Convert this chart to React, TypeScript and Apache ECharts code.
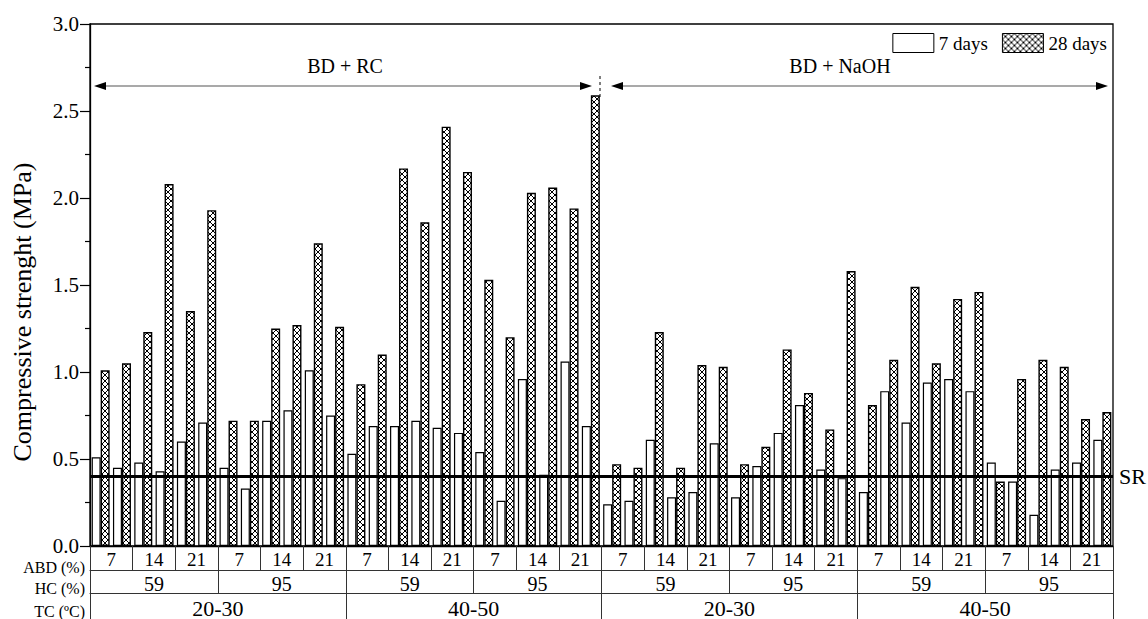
import React, { useEffect, useRef } from 'react';
import * as echarts from 'echarts';

// Treatment families shown above the bars
const MIX_LABELS = ['BD + RC', 'BD + NaOH'];
// Temperature (TC), humidity (HC) and binder dosage (ABD) groupings along the x axis
const TC_LABELS = ['20-30', '40-50', '20-30', '40-50'];
const HC_LABELS = ['59', '95', '59', '95', '59', '95', '59', '95'];
const ABD_LABELS = [
  '7', '14', '21', '7', '14', '21', '7', '14', '21', '7', '14', '21',
  '7', '14', '21', '7', '14', '21', '7', '14', '21', '7', '14', '21',
];
const SPECIMENS_PER_ABD = ['a', 'b'];

// One entry per specimen: ABD cell index + replicate letter
const SPECIMENS: string[] = ABD_LABELS.flatMap((abd, i) =>
  SPECIMENS_PER_ABD.map((s) => `${MIX_LABELS[Math.floor(i / 12)]} ${abd}% ${i}${s}`)
);

// Compressive strength (MPa)
const STRENGTH_7D = [
  0.51, 0.45, 0.48, 0.43, 0.60, 0.71, 0.45, 0.33, 0.72, 0.78, 1.01, 0.75,
  0.53, 0.69, 0.69, 0.72, 0.68, 0.65, 0.54, 0.26, 0.96, 0.41, 1.06, 0.69,
  0.24, 0.26, 0.61, 0.28, 0.31, 0.59, 0.28, 0.46, 0.65, 0.81, 0.44, 0.39,
  0.31, 0.89, 0.71, 0.94, 0.96, 0.89, 0.48, 0.37, 0.18, 0.44, 0.48, 0.61,
];
const STRENGTH_28D = [
  1.01, 1.05, 1.23, 2.08, 1.35, 1.93, 0.72, 0.72, 1.25, 1.27, 1.74, 1.26,
  0.93, 1.10, 2.17, 1.86, 2.41, 2.15, 1.53, 1.20, 2.03, 2.06, 1.94, 2.59,
  0.47, 0.45, 1.23, 0.45, 1.04, 1.03, 0.47, 0.57, 1.13, 0.88, 0.67, 1.58,
  0.81, 1.07, 1.49, 1.05, 1.42, 1.46, 0.37, 0.96, 1.07, 1.03, 0.73, 0.77,
];
// Strength requirement
const SR_LEVEL = 0.4;

const SERIF = '"Liberation Serif", "Times New Roman", serif';

function makeCrossHatch(size: number): HTMLCanvasElement {
  const c = document.createElement('canvas');
  c.width = size;
  c.height = size;
  const ctx = c.getContext('2d')!;
  ctx.fillStyle = '#ffffff';
  ctx.fillRect(0, 0, size, size);
  ctx.strokeStyle = '#000000';
  ctx.lineWidth = 1;
  ctx.beginPath();
  ctx.moveTo(-1, -1);
  ctx.lineTo(size + 1, size + 1);
  ctx.moveTo(size + 1, -1);
  ctx.lineTo(-1, size + 1);
  ctx.stroke();
  return c;
}

function arrow(x1: number, x2: number, y: number) {
  const head = 12;
  const half = 4;
  return [
    { type: 'line', shape: { x1: x1 + 4, y1: y, x2: x2 - 4, y2: y }, style: { stroke: '#555', lineWidth: 1.2 } },
    { type: 'polygon', shape: { points: [[x1, y], [x1 + head, y - half], [x1 + head, y + half]] }, style: { fill: '#000' } },
    { type: 'polygon', shape: { points: [[x2, y], [x2 - head, y - half], [x2 - head, y + half]] }, style: { fill: '#000' } },
  ];
}

export default function App() {
  const ref = useRef<HTMLDivElement>(null);

  useEffect(() => {
    if (!ref.current) return;
    const chart = echarts.init(ref.current, undefined, { renderer: 'svg' });
    const hatchSize = 6;
    const hatch = {
      image: makeCrossHatch(hatchSize),
      repeat: 'repeat',
      imageWidth: hatchSize,
      imageHeight: hatchSize,
    };
    const tableLine = { color: '#333', width: 1 };

    const option: any = {
      animation: false,
      backgroundColor: '#ffffff',
      textStyle: { fontFamily: SERIF, color: '#000' },
      grid: {
        left: 90, right: 35, top: 24, height: 524,
        show: true, borderColor: '#000', borderWidth: 1.3, backgroundColor: 'transparent',
      },
      legend: {
        right: 41, top: 33, padding: 0,
        itemWidth: 41, itemHeight: 19, itemGap: 14, icon: 'rect',
        data: ['7 days', '28 days'],
        itemStyle: { borderColor: '#000', borderWidth: 1 },
        textStyle: { fontSize: 19, color: '#000', fontFamily: SERIF },
      },
      xAxis: [
        {
          type: 'category', data: SPECIMENS, position: 'bottom',
          axisLine: { show: true, lineStyle: { color: '#000', width: 1.3 } },
          axisTick: { show: false }, axisLabel: { show: false },
        },
        {
          type: 'category', data: ABD_LABELS, position: 'bottom', offset: 0,
          axisLine: { show: false },
          axisTick: { show: true, length: 24, lineStyle: tableLine },
          axisLabel: { interval: 0, fontSize: 19, color: '#000', fontFamily: SERIF, margin: 13, verticalAlign: 'middle' },
        },
        {
          type: 'category', data: HC_LABELS, position: 'bottom', offset: 24,
          axisLine: { show: true, lineStyle: tableLine },
          axisTick: { show: true, length: 23, lineStyle: tableLine },
          axisLabel: { interval: 0, fontSize: 20, color: '#000', fontFamily: SERIF, margin: 14, verticalAlign: 'middle' },
        },
        {
          type: 'category', data: TC_LABELS, position: 'bottom', offset: 47,
          axisLine: { show: true, lineStyle: tableLine },
          axisTick: { show: true, length: 30, lineStyle: tableLine },
          axisLabel: { interval: 0, fontSize: 22, color: '#000', fontFamily: SERIF, margin: 15, verticalAlign: 'middle' },
        },
      ],
      yAxis: {
        type: 'value', min: 0, max: 3, interval: 0.5,
        axisLine: { show: true, lineStyle: { color: '#000', width: 1.3 } },
        axisTick: { show: true, length: 10, lineStyle: { color: '#000', width: 1.2 } },
        minorTick: { show: true, splitNumber: 2, length: 5, lineStyle: { color: '#000', width: 1.2 } },
        splitLine: { show: false },
        axisLabel: {
          formatter: (v: number) => v.toFixed(1),
          fontSize: 21, color: '#000', fontFamily: SERIF, margin: 11, lineHeight: 14,
        },
      },
      series: [
        {
          name: '7 days', type: 'bar', data: STRENGTH_7D,
          barWidth: 9, barGap: '0%',
          itemStyle: { color: '#ffffff', borderColor: '#000', borderWidth: 1.2 },
        },
        {
          name: '28 days', type: 'bar', data: STRENGTH_28D,
          barWidth: 9, barGap: '0%',
          itemStyle: { color: hatch, borderColor: '#000', borderWidth: 1.4 },
          markLine: {
            silent: true, symbol: 'none',
            data: [{ yAxis: SR_LEVEL }],
            lineStyle: { color: '#000', width: 3, type: 'solid' },
            label: { show: true, position: 'end', formatter: 'SR', fontSize: 22, color: '#000', fontFamily: SERIF, distance: 6 },
          },
        },
      ],
      graphic: [
        {
          type: 'text', x: 22, y: 312, rotation: Math.PI / 2,
          style: { text: 'Compressive strenght (MPa)', font: `26px ${SERIF}`, fill: '#000', align: 'center', verticalAlign: 'middle' },
        },
        { type: 'text', x: 85, y: 567, style: { text: 'ABD (%)', font: `16px ${SERIF}`, fill: '#000', align: 'right', verticalAlign: 'middle', lineHeight: 12 } },
        { type: 'text', x: 85, y: 588, style: { text: 'HC (%)', font: `16px ${SERIF}`, fill: '#000', align: 'right', verticalAlign: 'middle', lineHeight: 12 } },
        { type: 'text', x: 85, y: 611, style: { text: 'TC (ºC)', font: `16px ${SERIF}`, fill: '#000', align: 'right', verticalAlign: 'middle', lineHeight: 12 } },
        { type: 'text', x: 345, y: 66, style: { text: MIX_LABELS[0], font: `20px ${SERIF}`, fill: '#000', align: 'center', verticalAlign: 'middle' } },
        { type: 'text', x: 840, y: 66, style: { text: MIX_LABELS[1], font: `20px ${SERIF}`, fill: '#000', align: 'center', verticalAlign: 'middle' } },
        ...arrow(94, 592, 86),
        ...arrow(611, 1108, 86),
        { type: 'line', shape: { x1: 600, y1: 76, x2: 600, y2: 97 }, style: { stroke: '#000', lineWidth: 1, lineDash: [3, 3] } },
      ],
    };

    chart.setOption(option);
    return () => chart.dispose();
  }, []);

  return <div ref={ref} style={{ position: 'fixed', left: 0, top: 0, width: 1148, height: 619 }} />;
}
